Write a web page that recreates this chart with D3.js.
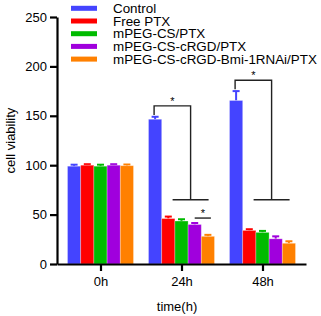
<!DOCTYPE html>
<html>
<head>
<meta charset="utf-8">
<script src="https://cdn.jsdelivr.net/npm/d3@7"></script>
<style>
  body { margin: 0; background: #fff; }
  svg { display: block; font-family: "Liberation Sans", Arial, sans-serif; }
</style>
</head>
<body>
<div class="svg_container"></div>
<script>
var groups = ["0h", "24h", "48h"];
var seriesNames = ["Control", "Free PTX", "mPEG-CS/PTX", "mPEG-CS-cRGD/PTX", "mPEG-CS-cRGD-Bmi-1RNAi/PTX"];
var colors = ["#4444ff", "#ff0000", "#00bb00", "#a000dd", "#ff8000"];

// mean cell viability per series, one value per time point
var control = [99, 146.5, 165.5];
var freePtx = [100, 46, 34];
var mpegCs = [99, 43.5, 32];
var mpegCrgd = [100, 40, 25.5];
var mpegBmi = [99.5, 28, 21];
// error (up only)
var controlErr = [1.5, 2.5, 9.5];
var freePtxErr = [1, 2, 1.2];
var mpegCsErr = [1.5, 1.8, 1.5];
var mpegCrgdErr = [1, 1.5, 2.5];
var mpegBmiErr = [1.2, 1.5, 2];

var yTicks = [0, 50, 100, 150, 200, 250];

// significance brackets: control vs. treated groups
var bigBrackets = [
    {group: "24h", top: 160, bottom: 65, label: "*"},
    {group: "48h", top: 186, bottom: 65, label: "*"}
];
var smallBrackets = [
    {group: "24h", from: 3, to: 4, level: 46.5, label: "*"}
];

var values = [control, freePtx, mpegCs, mpegCrgd, mpegBmi];
var errors = [controlErr, freePtxErr, mpegCsErr, mpegCrgdErr, mpegBmiErr];

const WIDTH = 321;
const HEIGHT = 316;
const LEFT = 57;
const RIGHT = 306;
const TOP = 17;
const BOTTOM = 264;

var svg = d3.select(".svg_container").append("svg")
    .attr("width", WIDTH)
    .attr("height", HEIGHT);

var y = d3.scaleLinear().domain([0, 250]).range([BOTTOM, TOP]);
var x = d3.scalePoint().domain(groups).range([LEFT, RIGHT]).padding(0.537);
var xs = d3.scaleBand().domain(d3.range(seriesNames.length)).range([-33, 33]);
var bw = xs.bandwidth();

var bars = [];
groups.forEach(function (g, gi) {
    values.forEach(function (arr, si) {
        bars.push({g: g, s: si, v: arr[gi], e: errors[si][gi]});
    });
});

var barX = function (d) { return x(d.g) + xs(d.s); };

// error bars (drawn first so bars sit on the stem)
var eb = svg.append("g").attr("class", "errors");
eb.selectAll("line.stem").data(bars).enter().append("line")
    .attr("x1", function (d) { return barX(d) + bw / 2; })
    .attr("x2", function (d) { return barX(d) + bw / 2; })
    .attr("y1", function (d) { return y(d.v); })
    .attr("y2", function (d) { return y(d.v + d.e); })
    .attr("stroke", function (d) { return colors[d.s]; })
    .attr("stroke-width", 2);
eb.selectAll("line.cap").data(bars).enter().append("line")
    .attr("x1", function (d) { return barX(d) + bw / 2 - 3.5; })
    .attr("x2", function (d) { return barX(d) + bw / 2 + 3.5; })
    .attr("y1", function (d) { return y(d.v + d.e); })
    .attr("y2", function (d) { return y(d.v + d.e); })
    .attr("stroke", function (d) { return colors[d.s]; })
    .attr("stroke-width", 2);

svg.append("g").selectAll("rect").data(bars).enter().append("rect")
    .attr("x", barX)
    .attr("y", function (d) { return y(d.v); })
    .attr("width", bw)
    .attr("height", function (d) { return BOTTOM - y(d.v); })
    .attr("fill", function (d) { return colors[d.s]; })
    .attr("stroke", "#ffffff")
    .attr("stroke-opacity", 0.35)
    .attr("stroke-width", 0.8);

// axes
var yAxis = d3.axisLeft(y).tickValues(yTicks).tickSize(7).tickSizeOuter(0).tickPadding(3);
var gy = svg.append("g").attr("transform", "translate(" + LEFT + ",0)").call(yAxis);
var xAxis = d3.axisBottom(x).tickSize(7).tickSizeOuter(0).tickPadding(6);
var gx = svg.append("g").attr("transform", "translate(0," + BOTTOM + ")").call(xAxis);
[gy, gx].forEach(function (g) {
    g.selectAll("path, line").attr("stroke", "#000").attr("stroke-width", 2.2);
    g.selectAll("text").attr("font-size", 13).attr("fill", "#000")
        .attr("font-family", "Liberation Sans, Arial, sans-serif");
});

svg.append("text")
    .attr("transform", "translate(15," + (TOP + BOTTOM) / 2 + ") rotate(-90)")
    .attr("text-anchor", "middle")
    .attr("font-size", 13)
    .text("cell viability");

svg.append("text")
    .attr("x", 177)
    .attr("y", 311)
    .attr("text-anchor", "middle")
    .attr("font-size", 13)
    .text("time(h)");

// significance brackets
var sig = svg.append("g").attr("fill", "none").attr("stroke", "#222").attr("stroke-width", 1.4);
bigBrackets.forEach(function (b) {
    var x0 = x(b.group) + xs(0) + bw / 2 - 1;
    var x1 = (x(b.group) + xs(1) + x(b.group) + xs(4) + bw) / 2 + 2.5;
    sig.append("path")
        .attr("d", "M" + x0 + "," + (y(b.top) + 9) + "V" + y(b.top) + "H" + x1 + "V" + y(b.bottom));
    sig.append("line")
        .attr("x1", x1 - 18).attr("x2", x1 + 18)
        .attr("y1", y(b.bottom)).attr("y2", y(b.bottom));
    svg.append("text")
        .attr("x", (x0 + x1) / 2).attr("y", y(b.top) - 1)
        .attr("text-anchor", "middle").attr("font-size", 11)
        .text(b.label);
});
smallBrackets.forEach(function (b) {
    var x0 = x(b.group) + xs(b.from) + bw / 2;
    var x1 = x(b.group) + xs(b.to) + bw / 2 + 3;
    sig.append("line")
        .attr("x1", x0).attr("x2", x1)
        .attr("y1", y(b.level)).attr("y2", y(b.level));
    svg.append("text")
        .attr("x", (x0 + x1) / 2).attr("y", y(b.level) - 1)
        .attr("text-anchor", "middle").attr("font-size", 11)
        .text(b.label);
});

// legend
var legend = svg.append("g").selectAll("g").data(seriesNames).enter().append("g")
    .attr("transform", function (d, i) { return "translate(71," + (8.3 + i * 12.7) + ")"; });
legend.append("rect")
    .attr("x", 0).attr("y", -2.5)
    .attr("width", 26).attr("height", 5)
    .attr("fill", function (d, i) { return colors[i]; });
legend.append("text")
    .attr("x", 42).attr("y", 4.5)
    .attr("font-size", 13.4)
    .text(function (d) { return d; });
</script>
</body>
</html>
